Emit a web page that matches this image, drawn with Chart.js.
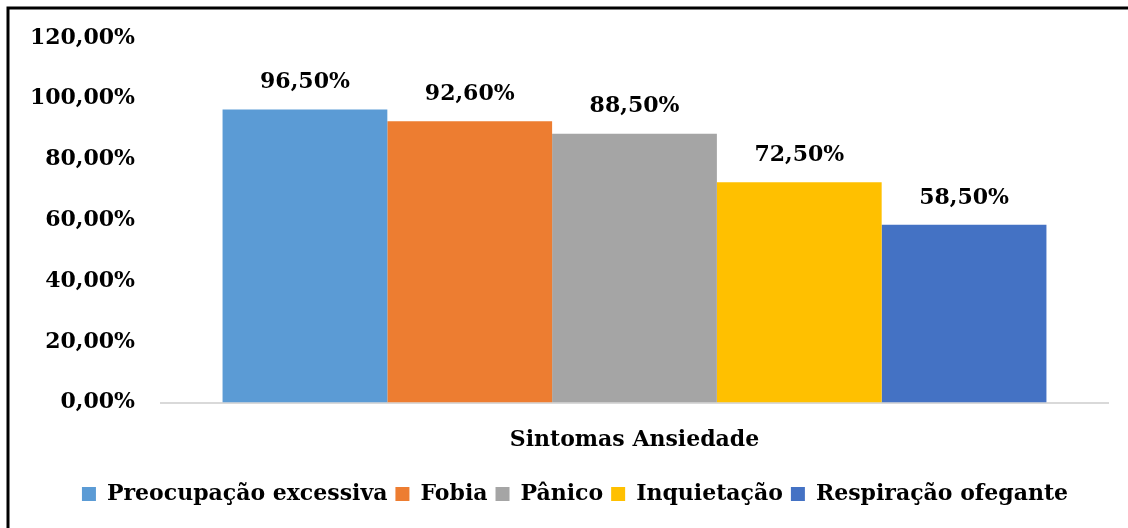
<!DOCTYPE html>
<html>
<head>
<meta charset="utf-8">
<script src="https://cdn.jsdelivr.net/npm/chart.js@4/dist/chart.umd.min.js"></script>
<style>
  html, body { margin: 0; padding: 0; background: #fff; overflow: hidden; }
  #wrap { width: 1128px; height: 528px; position: relative; }
</style>
</head>
<body>
<div id="wrap"><canvas id="anxChart" width="1128" height="528"></canvas></div>
<script>
const categories = ["Sintomas Ansiedade"];
const seriesNames = ["Preocupação excessiva", "Fobia", "Pânico", "Inquietação", "Respiração ofegante"];
const seriesValues = [96.5, 92.6, 88.5, 72.5, 58.5];
const seriesColors = ["#5B9BD5", "#ED7D31", "#A5A5A5", "#FFC000", "#4472C4"];
const yTicks = [0, 20, 40, 60, 80, 100, 120];

const FONT = "'DejaVu Serif', 'Liberation Serif', serif";

function pct(v) {
  return v.toFixed(2).replace(".", ",") + "%";
}

// labels above the bars
const valueLabels = {
  id: "valueLabels",
  afterDatasetsDraw(chart) {
    const ctx = chart.ctx;
    ctx.save();
    ctx.font = "bold 22px " + FONT;
    ctx.fillStyle = "#000";
    ctx.textAlign = "center";
    ctx.textBaseline = "middle";
    chart.data.datasets.forEach((ds, i) => {
      const bar = chart.getDatasetMeta(i).data[0];
      ctx.fillText(pct(ds.data[0]), bar.x, bar.y - 27);
    });
    ctx.restore();
  }
};

// nudge the legend right and down a bit, as in the original
const legendShift = {
  id: "legendShift",
  afterLayout(chart) {
    const lg = chart.legend;
    if (lg) {
      lg.left += 10;
      lg.right += 10;
      lg.top += 6;
      lg.bottom += 6;
    }
  }
};

// frame on top and left like the cropped original
const frame = {
  id: "frame",
  afterDraw(chart) {
    const ctx = chart.ctx;
    ctx.save();
    ctx.strokeStyle = "#000";
    ctx.lineWidth = 3;
    ctx.beginPath();
    ctx.moveTo(8, 528);
    ctx.lineTo(8, 8);
    ctx.lineTo(1128, 8);
    ctx.stroke();
    ctx.restore();
  }
};

document.addEventListener("DOMContentLoaded", () => {
  const ctx = document.getElementById("anxChart").getContext("2d");
  new Chart(ctx, {
    type: "bar",
    data: {
      labels: categories,
      datasets: seriesNames.map((name, i) => ({
        label: name,
        data: [seriesValues[i]],
        backgroundColor: seriesColors[i],
        borderWidth: 0,
        categoryPercentage: 0.87,
        barPercentage: 1.0
      }))
    },
    options: {
      responsive: false,
      animation: false,
      layout: { padding: { left: 22, right: 20, top: 38, bottom: 19 } },
      scales: {
        x: {
          grid: { display: false },
          border: { display: true, color: "#D9D9D9", width: 2 },
          ticks: { color: "#000", padding: 16, font: { family: FONT, size: 22, weight: "bold" } }
        },
        y: {
          min: 0,
          max: 120,
          afterBuildTicks: s => { s.ticks = yTicks.map(v => ({ value: v })); },
          afterFit: s => { s.width = 139; },
          grid: { display: false },
          border: { display: false },
          ticks: {
            color: "#000",
            padding: 18,
            font: { family: FONT, size: 22, weight: "bold" },
            callback: v => pct(v)
          }
        }
      },
      plugins: {
        tooltip: { enabled: false },
        legend: {
          position: "bottom",
          labels: {
            color: "#000",
            boxWidth: 14,
            boxHeight: 14,
            padding: 8,
            font: { family: FONT, size: 22, weight: "bold" }
          }
        }
      }
    },
    plugins: [valueLabels, legendShift, frame]
  });
});
</script>
</body>
</html>
